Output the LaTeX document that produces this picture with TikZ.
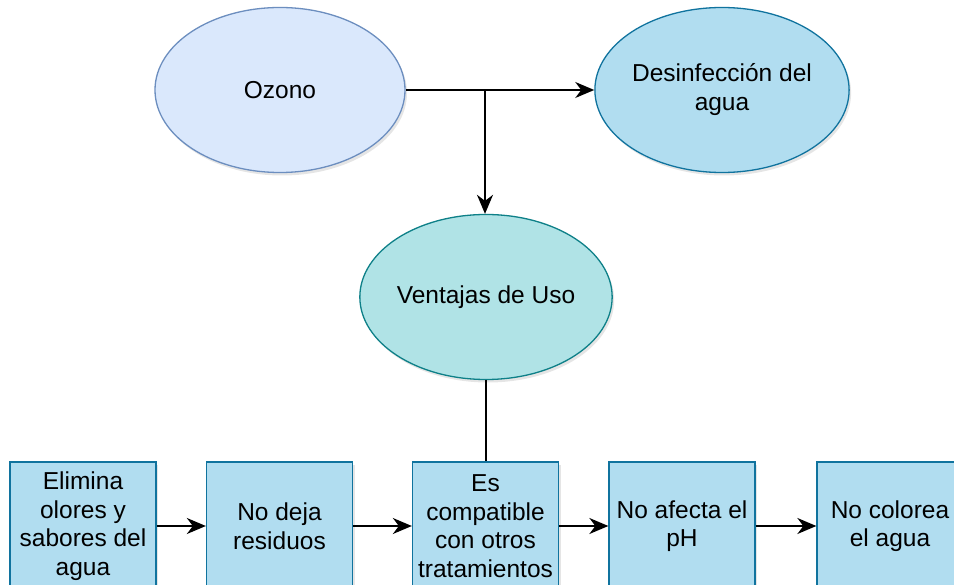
\documentclass[tikz,border=0pt]{standalone}
\usepackage{fontspec}
\setmainfont{Liberation Sans}
\usetikzlibrary{shapes.geometric,arrows.meta,shadows}

\definecolor{ozfill}{HTML}{DAE8FC}
\definecolor{ozline}{HTML}{6C8EBF}
\definecolor{blfill}{HTML}{B1DDF0}
\definecolor{blline}{HTML}{10739E}
\definecolor{tqfill}{HTML}{B0E3E6}
\definecolor{tqline}{HTML}{0E8088}

\begin{document}
\begin{tikzpicture}[x=1pt,y=-1pt]
\clip (0,0) rectangle (954,585);
\fill[white] (0,0) rectangle (954,585);

\tikzset{sombra/.style={drop shadow={shadow xshift=2pt,shadow yshift=-3pt,opacity=0.2}}};
\tikzset{elipse/.style={ellipse,line width=1.3pt,inner sep=0pt,minimum width=250pt,minimum height=165pt,align=center,font=\fontsize{24.5}{29}\selectfont,sombra}};
\tikzset{caja/.style={rectangle,draw=blline,fill=blfill,line width=1.3pt,minimum width=146pt,minimum height=128pt,inner sep=0pt,align=center,font=\fontsize{24.5}{28.5}\selectfont,sombra}};
\tikzset{flecha/.style={-{Stealth[length=19pt,width=16pt,inset=6pt]},line width=1.6pt}};

\node[elipse,draw=ozline,fill=ozfill] (oz) at (280,90) {Ozono};
\node[elipse,draw=blline,fill=blfill] (des) at (722,90) {Desinfección del\\agua};
\node[elipse,draw=tqline,fill=tqfill] (ven) at (486,297) {Ventajas de Uso};

\node[caja] (b1) at (83,526) {Elimina\\olores y\\sabores del\\agua};
\node[caja] (b2) at (279.5,526) {No deja\\residuos};
\node[caja] (b3) at (485.5,526) {Es\\compatible\\con otros\\tratamientos};
\node[caja] (b4) at (682,526) {No afecta el\\pH};
\node[caja] (b5) at (890,526) {No colorea\\el agua};

\coordinate (split) at (485,90);

\draw[flecha] (oz.east) -- (des.west);
\draw[flecha] (split) -- (split |- ven.north);
\draw[line width=1.6pt] (ven.south) -- (ven.south |- b3.north);

\path (b1) edge [flecha] (b2);
\path (b2) edge [flecha] (b3);
\path (b3) edge [flecha] (b4);
\path (b4) edge [flecha] (b5);
\end{tikzpicture}
\end{document}
